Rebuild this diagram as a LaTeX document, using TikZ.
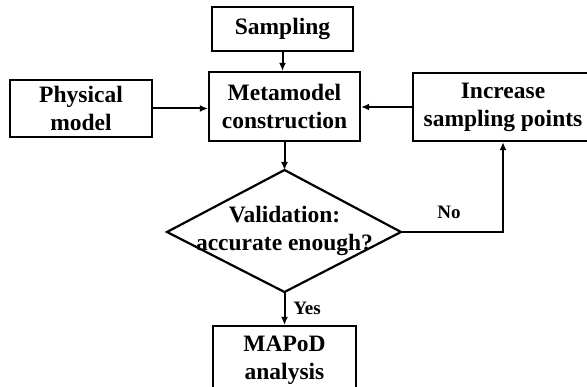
\documentclass[tikz,border=0pt]{standalone}
\usepackage{fontspec}
\setmainfont{Liberation Serif}
\usetikzlibrary{arrows.meta}
\begin{document}
\begin{tikzpicture}[x=1pt,y=-1pt,
  box/.style={draw, line width=2.2pt, inner sep=0pt, align=center,
    font=\fontsize{23.5}{28}\selectfont\bfseries},
  lbl/.style={font=\fontsize{19}{22}\selectfont\bfseries, inner sep=0pt},
  conn/.style={line width=2pt, -{Latex[length=8pt,width=7pt]}},
  edge/.style={line width=2.2pt}]
\useasboundingbox (0,0) rectangle (587,387);
\begin{scope}
\clip (0,0) rectangle (587,387);
\node[box, minimum width=141pt, minimum height=44pt] (samp) at (282.5,29) {Sampling};
\node[box, minimum width=151pt, minimum height=69pt] (meta) at (284.5,106.5) {Metamodel\\construction};
\node[box, minimum width=142pt, minimum height=57pt] (phys) at (81,108.5) {Physical\\model};
\node[box, minimum width=180pt, minimum height=68pt] (inc) at (503,107) {Increase\\sampling points};
\coordinate (dT) at (284.5,170);
\coordinate (dL) at (167,232);
\coordinate (dR) at (401,232);
\coordinate (dB) at (284.5,292);
\draw[edge, line join=miter] (dT) -- (dR) -- (dB) -- (dL) -- cycle;
\node[align=center, inner sep=0pt, font=\fontsize{23.5}{28}\selectfont\bfseries] (val) at (284.5,231) {Validation:\\accurate enough?};
\node[box, minimum width=143pt, minimum height=68pt] (mapod) at (284.5,360) {MAPoD\\analysis};
\coordinate (corner) at (503,232);
\draw[conn] (samp.south) -- (samp.south |- meta.north);
\draw[conn] (phys.east) -- (phys.east -| meta.west);
\draw[conn] (inc.west) -- (inc.west -| meta.east);
\draw[conn] (meta.south) -- (dT);
\draw[conn] (dB) -- (dB |- mapod.north);
\draw[conn] (dR) -- (corner) -- (inc.south);
\node[lbl] (no) at (449,212) {No};
\node[lbl] (yes) at (307,308) {Yes};
\end{scope}
\end{tikzpicture}
\end{document}
